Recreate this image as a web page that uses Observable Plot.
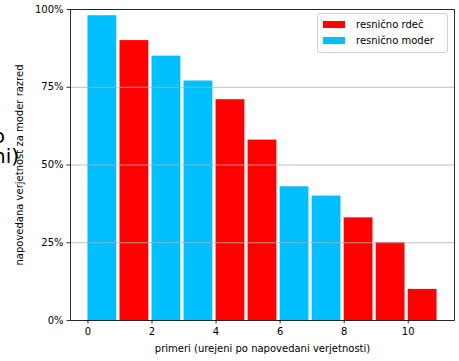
<!DOCTYPE html>
<html><head><meta charset="utf-8">
<script src="https://cdn.jsdelivr.net/npm/d3@7"></script>
<script src="https://cdn.jsdelivr.net/npm/@observablehq/plot@0.6"></script>
<style>
body{margin:0;background:#fff;}
#wrap{position:relative;width:459px;height:361px;overflow:hidden;font-family:"DejaVu Sans",sans-serif;}
#wrap svg{position:absolute;left:0;top:0;}
.cut{position:absolute;width:300px;text-align:right;font-size:20px;line-height:20px;color:#000;white-space:nowrap;}
#legend{position:absolute;left:317px;top:13px;width:129px;height:38px;border:1px solid #d0d0d0;border-radius:3px;background:rgba(255,255,255,0.8);font-size:10px;color:#000;}
.item{position:absolute;left:5px;height:12px;}
.sw{position:absolute;left:0;width:22px;height:7px;}
.lab{position:absolute;left:33px;top:-2px;white-space:nowrap;}
</style></head><body><div id="wrap"></div>
<script>
const indices = [0, 1, 2, 3, 4, 5, 6, 7, 8, 9, 10];
const probs = [0.98, 0.90, 0.85, 0.77, 0.71, 0.58, 0.43, 0.40, 0.33, 0.25, 0.10];
const trueClass = ["moder", "rdeč", "moder", "moder", "rdeč", "rdeč", "moder", "moder", "rdeč", "rdeč", "rdeč"];
const classes = ["rdeč", "moder"];
const classColors = ["#ff0000", "#00bfff"];
const legendLabels = ["resnično rdeč", "resnično moder"];
const xTicks = [0, 2, 4, 6, 8, 10];
const yTicks = [0, 0.25, 0.5, 0.75, 1];
const xLabel = "primeri (urejeni po napovedani verjetnosti)";
const yLabel = "napovedana verjetnost za moder razred";
const cutLines = ["o", "ni)"];

const barWidth = 0.9;
const data = indices.map((i, k) => ({x1: i, x2: i + barWidth, p: probs[k], cls: trueClass[k]}));

const wrap = document.getElementById("wrap");

// partially cut-off text at the left edge (from a neighbouring element)
const cutPos = [{right: 5, top: 126}, {right: 19, top: 146}];
cutLines.forEach((t, k) => {
  const d = document.createElement("div");
  d.className = "cut";
  d.textContent = t;
  d.style.left = (cutPos[k].right - 300) + "px";
  d.style.top = cutPos[k].top + "px";
  wrap.appendChild(d);
});

const svg = Plot.plot({
  width: 459,
  height: 361,
  marginLeft: 70,
  marginRight: 5,
  marginTop: 9,
  marginBottom: 41,
  style: {background: "transparent", fontFamily: "DejaVu Sans, sans-serif", fontSize: "10px", color: "#000", overflow: "visible"},
  x: {domain: [-0.545, 11.445]},
  y: {domain: [0, 1]},
  color: {domain: classes, range: classColors},
  marks: [
    Plot.rectY(data, {x1: "x1", x2: "x2", y: "p", fill: "cls"}),
    Plot.gridY(yTicks, {stroke: "#b0b0b0", strokeOpacity: 1, strokeWidth: 0.8}),
    Plot.frame({stroke: "#000", strokeWidth: 0.8}),
    Plot.axisX(xTicks, {tickSize: 3.5, tickPadding: 3.5, label: null, stroke: "#000", strokeWidth: 0.8, fill: "#000"}),
    Plot.axisY(yTicks, {tickSize: 3.5, tickPadding: 3.5, tickFormat: d3.format(".0%"), label: null, stroke: "#000", strokeWidth: 0.8, fill: "#000"}),
    Plot.text([yLabel], {frameAnchor: "left", text: d => d, rotate: -90, dx: -51, textAnchor: "middle", lineAnchor: "middle", fill: "#000"}),
    Plot.text([xLabel], {frameAnchor: "bottom", text: d => d, dy: 28, textAnchor: "middle", lineAnchor: "middle", fill: "#000"})
  ]
});
wrap.appendChild(svg);

// legend
const legend = document.createElement("div");
legend.id = "legend";
legendLabels.forEach((lab, k) => {
  const it = document.createElement("div");
  it.className = "item";
  it.style.top = (7 + k * 16) + "px";
  const sw = document.createElement("div");
  sw.className = "sw";
  sw.style.background = classColors[k];
  const tx = document.createElement("div");
  tx.className = "lab";
  tx.textContent = lab;
  it.appendChild(sw);
  it.appendChild(tx);
  legend.appendChild(it);
});
wrap.appendChild(legend);
</script>
</body></html>
